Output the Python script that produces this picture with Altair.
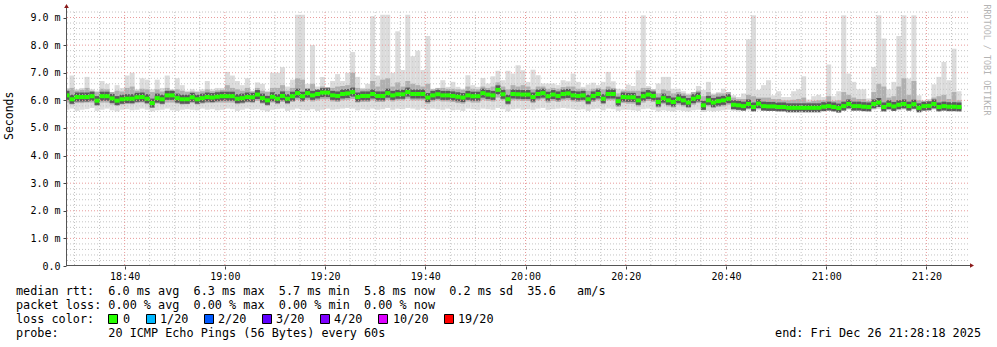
import altair as alt
import pandas as pd

# ---- data (one step per minute, first step starts 18:28) ----
START_MINUTE = 28  # minutes after 18:00

med_a = [6.18, 6.04, 6.12, 6.12, 6.12, 6.15, 5.99, 6.15, 6.15, 6.07, 5.99, 6.04, 6.06, 6.06, 6.11, 6.12, 6.06, 5.90,
         6.08, 6.04, 6.18, 6.18, 6.08, 6.04, 6.04, 6.11, 6.04, 6.08, 6.12, 6.10, 6.13, 6.15, 6.15, 6.15, 6.06, 6.08]
med_b = [6.12, 6.11, 6.21, 6.08, 6.00, 6.13, 6.06, 6.16, 6.06, 6.15, 6.26, 6.15, 6.26, 6.18, 6.23, 6.28, 6.28, 6.18,
         6.16, 6.23, 6.25, 6.30, 6.12, 6.16, 6.16, 6.23, 6.16, 6.16, 6.26, 6.18, 6.22, 6.22, 6.30, 6.23, 6.23, 6.23]
med_c = [6.10, 6.18, 6.22, 6.18, 6.18, 6.16, 6.13, 6.10, 6.18, 6.15, 6.15, 6.26, 6.21, 6.18, 6.38, 6.22, 6.04, 6.23,
         6.22, 6.21, 6.21, 6.12, 6.23, 6.26, 6.15, 6.21, 6.16, 6.23, 6.25, 6.18, 6.16, 6.18, 6.04, 6.16, 6.23, 6.06]
med_d = [6.23, 6.23, 5.97, 6.12, 6.11, 6.11, 6.00, 6.15, 6.21, 6.16, 5.94, 6.08, 6.00, 5.94, 6.06, 6.00, 5.92, 6.06,
         6.12, 5.82, 6.00, 5.92, 5.97, 6.00, 6.06, 5.84, 5.82, 5.79, 5.87, 5.76, 5.88, 5.79, 5.78, 5.78, 5.76, 5.76]
med_e = [5.73, 5.73, 5.73, 5.73, 5.73, 5.73, 5.73, 5.77, 5.79, 5.76, 5.72, 5.79, 5.87, 5.79, 5.79, 5.77, 5.76, 5.87,
         5.92, 5.76, 5.84, 5.78, 5.84, 5.87, 5.79, 5.86, 5.73, 5.79, 5.80, 5.87, 5.76, 5.79, 5.77, 5.77, 5.76]

max_a = [6.45, 6.90, 6.40, 6.45, 6.85, 6.40, 6.35, 6.70, 6.60, 6.30, 6.55, 6.45, 6.90, 7.00, 6.40, 6.80, 6.75, 6.40,
         6.75, 6.45, 6.90, 6.40, 6.80, 6.55, 6.35, 6.40, 6.35, 6.40, 6.70, 6.40, 6.45, 6.45, 7.03, 6.90, 6.70, 6.55]
max_b = [6.80, 6.35, 6.65, 6.60, 6.35, 7.00, 7.00, 7.20, 6.50, 6.75, 9.10, 9.10, 6.60, 8.00, 6.50, 6.85, 6.35, 6.70,
         6.95, 6.70, 7.00, 7.75, 6.85, 6.45, 6.60, 9.05, 6.90, 9.10, 9.10, 7.00, 8.50, 7.10, 9.10, 7.60, 7.80, 7.10]
max_c = [8.33, 6.42, 6.42, 6.73, 6.49, 6.67, 6.49, 6.42, 6.91, 6.55, 6.49, 6.81, 6.61, 6.87, 7.07, 6.73, 7.07, 6.97,
         7.27, 7.09, 6.67, 7.11, 6.91, 6.61, 6.61, 6.61, 6.55, 6.73, 6.69, 6.97, 6.67, 6.49, 6.57, 6.64, 6.55, 6.67]
max_d = [7.03, 6.69, 6.42, 6.40, 6.57, 6.52, 7.09, 9.08, 6.52, 6.38, 6.61, 6.85, 6.85, 6.42, 6.42, 6.33, 6.25, 6.25,
         6.52, 6.38, 6.67, 6.25, 6.30, 6.42, 6.30, 6.18, 6.12, 6.25, 8.21, 9.08, 6.38, 6.55, 6.73, 6.18, 6.33, 6.12]
max_e = [6.12, 6.33, 6.40, 6.87, 6.03, 6.15, 6.20, 6.12, 7.30, 6.15, 6.33, 9.08, 6.97, 6.67, 6.40, 6.40, 6.07, 7.21,
         9.08, 8.24, 6.40, 6.67, 8.33, 9.08, 6.79, 9.08, 6.18, 6.00, 6.05, 6.58, 6.85, 7.39, 6.73, 7.87, 6.33]

min_a = [5.66, 5.70, 5.62, 5.66, 5.68, 5.72, 5.62, 5.66, 5.70, 5.64, 5.60, 5.66, 5.68, 5.64, 5.66, 5.70, 5.66, 5.60,
         5.64, 5.66, 5.70, 5.64, 5.62, 5.66, 5.68, 5.66, 5.64, 5.70, 5.66, 5.68, 5.64, 5.66, 5.70, 5.68, 5.62, 5.66]
min_b = [5.70, 5.66, 5.68, 5.64, 5.60, 5.66, 5.68, 5.70, 5.62, 5.66, 5.70, 5.66, 5.64, 5.68, 5.62, 5.66, 5.70, 5.66,
         5.68, 5.70, 5.72, 5.70, 5.64, 5.68, 5.66, 5.70, 5.66, 5.68, 5.72, 5.66, 5.70, 5.68, 5.72, 5.70, 5.66, 5.70]
min_c = [5.66, 5.70, 5.68, 5.66, 5.70, 5.64, 5.66, 5.62, 5.70, 5.68, 5.66, 5.70, 5.68, 5.66, 5.72, 5.68, 5.60, 5.68,
         5.70, 5.66, 5.68, 5.66, 5.70, 5.72, 5.66, 5.68, 5.70, 5.72, 5.70, 5.68, 5.66, 5.68, 5.62, 5.68, 5.70, 5.64]
min_d = [5.70, 5.68, 5.62, 5.66, 5.66, 5.64, 5.62, 5.68, 5.70, 5.66, 5.60, 5.64, 5.62, 5.60, 5.64, 5.62, 5.60, 5.64,
         5.66, 5.58, 5.62, 5.60, 5.62, 5.64, 5.66, 5.62, 5.60, 5.62, 5.64, 5.62, 5.64, 5.62, 5.62, 5.64, 5.62, 5.62]
min_e = [5.62, 5.64, 5.62, 5.62, 5.64, 5.62, 5.62, 5.64, 5.66, 5.62, 5.60, 5.64, 5.66, 5.62, 5.64, 5.62, 5.62, 5.66,
         5.68, 5.62, 5.64, 5.62, 5.64, 5.66, 5.62, 5.64, 5.60, 5.62, 5.64, 5.66, 5.62, 5.64, 5.62, 5.64, 5.62]

qhi_a = [6.40, 6.45, 6.35, 6.38, 6.45, 6.35, 6.30, 6.42, 6.40, 6.30, 6.35, 6.32, 6.45, 6.50, 6.35, 6.42, 6.40, 6.30,
         6.40, 6.32, 6.45, 6.38, 6.40, 6.35, 6.30, 6.32, 6.30, 6.33, 6.40, 6.33, 6.36, 6.38, 6.55, 6.45, 6.40, 6.35]
qhi_b = [6.45, 6.32, 6.45, 6.35, 6.30, 6.45, 6.45, 6.55, 6.35, 6.45, 6.80, 6.75, 6.40, 6.60, 6.40, 6.50, 6.48, 6.45,
         6.50, 6.52, 6.55, 7.00, 6.45, 6.40, 6.42, 6.70, 6.50, 6.75, 6.80, 6.50, 6.65, 6.50, 6.70, 6.60, 6.55, 6.50]
qhi_c = [6.60, 6.40, 6.45, 6.45, 6.42, 6.42, 6.40, 6.38, 6.50, 6.42, 6.40, 6.50, 6.45, 6.50, 6.65, 6.50, 6.40, 6.55,
         6.50, 6.55, 6.50, 6.40, 6.50, 6.50, 6.42, 6.45, 6.42, 6.48, 6.50, 6.50, 6.42, 6.42, 6.35, 6.42, 6.45, 6.40]
qhi_d = [6.50, 6.45, 6.25, 6.35, 6.35, 6.35, 6.35, 6.45, 6.45, 6.40, 6.25, 6.40, 6.35, 6.25, 6.30, 6.25, 6.20, 6.30,
         6.35, 6.15, 6.30, 6.20, 6.25, 6.25, 6.30, 6.10, 6.05, 6.05, 6.20, 6.15, 6.10, 6.10, 6.10, 6.05, 6.05, 6.00]
qhi_e = [6.00, 6.02, 6.05, 6.10, 5.95, 5.98, 6.00, 6.00, 6.15, 5.98, 6.00, 6.30, 6.20, 6.10, 6.05, 6.05, 5.98, 6.30,
         6.60, 6.50, 6.10, 6.15, 6.50, 6.80, 6.20, 6.70, 6.00, 5.95, 5.98, 6.10, 6.15, 6.20, 6.05, 6.30, 6.00]

qlo_a = [5.92, 5.85, 5.90, 5.90, 5.92, 5.92, 5.80, 5.92, 5.92, 5.85, 5.80, 5.85, 5.88, 5.86, 5.90, 5.92, 5.86, 5.75,
         5.88, 5.85, 5.92, 5.92, 5.88, 5.85, 5.86, 5.90, 5.85, 5.88, 5.90, 5.90, 5.92, 5.92, 5.92, 5.92, 5.86, 5.88]
qlo_b = [5.92, 5.90, 5.98, 5.88, 5.80, 5.92, 5.86, 5.94, 5.86, 5.94, 6.02, 5.94, 6.02, 5.96, 6.00, 6.04, 6.04, 5.96,
         5.94, 6.00, 6.02, 6.05, 5.92, 5.94, 5.94, 6.00, 5.94, 5.94, 6.02, 5.96, 6.00, 6.00, 6.06, 6.00, 6.00, 6.00]
qlo_c = [5.88, 5.96, 6.00, 5.96, 5.96, 5.94, 5.90, 5.88, 5.96, 5.92, 5.92, 6.02, 5.98, 5.96, 6.10, 6.00, 5.84, 6.00,
         6.00, 5.98, 5.98, 5.90, 6.00, 6.04, 5.92, 5.98, 5.94, 6.00, 6.02, 5.96, 5.94, 5.96, 5.84, 5.94, 6.00, 5.86]
qlo_d = [6.00, 6.00, 5.76, 5.90, 5.88, 5.88, 5.78, 5.92, 5.98, 5.94, 5.74, 5.86, 5.78, 5.74, 5.84, 5.78, 5.72, 5.84,
         5.90, 5.66, 5.78, 5.72, 5.76, 5.78, 5.84, 5.68, 5.66, 5.66, 5.70, 5.64, 5.70, 5.66, 5.66, 5.66, 5.66, 5.66]
qlo_e = [5.64, 5.66, 5.64, 5.64, 5.66, 5.64, 5.64, 5.66, 5.68, 5.64, 5.62, 5.68, 5.72, 5.66, 5.66, 5.64, 5.64, 5.72,
         5.76, 5.64, 5.70, 5.66, 5.70, 5.72, 5.66, 5.70, 5.62, 5.66, 5.66, 5.72, 5.64, 5.66, 5.64, 5.66, 5.64]

rtt_median = med_a + med_b + med_c + med_d + med_e
rtt_max = max_a + max_b + max_c + max_d + max_e
rtt_min = min_a + min_b + min_c + min_d + min_e
rtt_qhi = qhi_a + qhi_b + qhi_c + qhi_d + qhi_e
rtt_qlo = qlo_a + qlo_b + qlo_c + qlo_d + qlo_e

x_tick_minutes = [40, 60, 80, 100, 120, 140, 160, 180, 200]
y_tick_values = [0, 1, 2, 3, 4, 5, 6, 7, 8, 9]

stats_line1 = "median rtt:  6.0 ms avg  6.3 ms max  5.7 ms min  5.8 ms now  0.2 ms sd  35.6   am/s"
stats_line2 = "packet loss: 0.00 % avg  0.00 % max  0.00 % min  0.00 % now"
loss_title = "loss color:"
loss_labels = ["0", "1/20", "2/20", "3/20", "4/20", "10/20", "19/20"]
loss_colors = ["#26ff00", "#00b8ff", "#0059ff", "#5e00ff", "#7e00ff", "#dd00ff", "#ff0000"]
probe_line = "probe:       20 ICMP Echo Pings (56 Bytes) every 60s"
end_line = "end: Fri Dec 26 21:28:18 2025"
y_title = "Seconds"
watermark = "RRDTOOL / TOBI OETIKER"

n = len(rtt_median)
assert all(len(a) == n for a in [rtt_max, rtt_min, rtt_qhi, rtt_qlo])
df = pd.DataFrame({
    "t0": [START_MINUTE + i for i in range(n)],
    "t1": [START_MINUTE + i + 1 for i in range(n)],
    "med": rtt_median, "lo": rtt_min, "hi": rtt_max, "qlo": rtt_qlo, "qhi": rtt_qhi,
})

# ---- layout / style ----
W, H = 902, 254
MONO = "DejaVu Sans Mono"
x_scale = alt.Scale(domain=[28.3, 208.3], nice=False, zero=False)
y_scale = alt.Scale(domain=[0, 9.2], nice=False, zero=False)
x_axis = alt.Axis(values=x_tick_minutes, title=None, grid=False, domain=False, tickSize=3, tickColor="#444444",
                  labelFont=MONO, labelFontSize=10, labelColor="#000000", labelPadding=2,
                  labelExpr="toString(18 + floor(datum.value / 60)) + ':' + (datum.value % 60 < 10 ? '0' : '') + toString(datum.value % 60)")
y_axis = alt.Axis(values=y_tick_values, title=None, grid=False, domain=False, tickSize=3, tickColor="#444444",
                  labelFont=MONO, labelFontSize=10, labelColor="#000000", labelPadding=3,
                  labelExpr="datum.value == 0 ? '0.0' : format(datum.value, '.1f') + ' m'")


def X(field):
    return alt.X(field, type="quantitative", scale=x_scale, axis=x_axis)


def Y(field):
    return alt.Y(field, type="quantitative", scale=y_scale, axis=y_axis)


base = alt.Chart(df)
smoke_light = base.mark_rect(color="#dcdcdc", clip=True).encode(x=X("t0"), x2="t1", y=Y("lo"), y2="hi")
smoke_mid = base.mark_rect(color="#b0b0b0", clip=True).encode(x=X("t0"), x2="t1", y=Y("qlo"), y2="qhi")
core = base.mark_rule(color="#5a5a5a", strokeWidth=9, clip=True).encode(x=X("t0"), x2="t1", y=Y("med"))
median = base.mark_rule(color="#26ff00", strokeWidth=4, clip=True).encode(x=X("t0"), x2="t1", y=Y("med"))

minor_x = [m for m in range(30, 209, 5) if m % 20 != 0]
major_x = [m for m in range(40, 209, 20)]
minor_y = [round(v * 0.2, 1) for v in range(1, 47) if v % 5 != 0]
major_y = [1, 2, 3, 4, 5, 6, 7, 8, 9]

grid_minor_v = alt.Chart(pd.DataFrame({"v": minor_x})).mark_rule(color="#c4c4c4", strokeDash=[1, 2]).encode(x=X("v"))
grid_minor_h = alt.Chart(pd.DataFrame({"v": minor_y})).mark_rule(color="#c4c4c4", strokeDash=[1, 2]).encode(y=Y("v"))
grid_major_v = alt.Chart(pd.DataFrame({"v": major_x})).mark_rule(color="#e89a9a", strokeDash=[1, 2]).encode(x=X("v"))
grid_major_h = alt.Chart(pd.DataFrame({"v": major_y})).mark_rule(color="#e89a9a", strokeDash=[1, 2]).encode(y=Y("v"))

one = pd.DataFrame({"a": [0]})
y_axis_line = alt.Chart(one).mark_rule(color="#555555", strokeWidth=1).encode(
    x=alt.value(0.5), y=alt.value(-6), y2=alt.value(H))
x_axis_line = alt.Chart(one).mark_rule(color="#555555", strokeWidth=1).encode(
    x=alt.value(0), x2=alt.value(W + 3), y=alt.value(H - 0.5))
arrow_up = alt.Chart(one).mark_point(shape="triangle-up", filled=True, color="#8b1a1a", size=22, opacity=1).encode(
    x=alt.value(0.5), y=alt.value(-6))
arrow_right = alt.Chart(one).mark_point(shape="triangle-right", filled=True, color="#8b1a1a", size=22, opacity=1).encode(
    x=alt.value(W + 4), y=alt.value(H - 0.5))


def text_layer(txt, x, y, size=11.8, align="left", angle=0, color="#000000", font=MONO):
    d = pd.DataFrame({"t": [txt.replace(" ", "\u00a0")]})
    kw = dict(align=align, baseline="middle", font=font, fontSize=size, color=color)
    if angle:
        kw["angle"] = angle
    return alt.Chart(d).mark_text(**kw).encode(x=alt.value(x), y=alt.value(y), text="t:N")


texts = [
    text_layer(y_title, -56, 128, size=11.5, angle=270),
    text_layer(watermark, 921, 48, size=8.4, angle=90, color="#b4b4b4", align="center"),
    text_layer(stats_line1, -50, 279),
    text_layer(stats_line2, -50, 293),
    text_layer(loss_title, -50, 307),
    text_layer(probe_line, -50, 321),
    text_layer(end_line, 915, 321, align="right"),
]

box_left = [42, 80, 138, 196, 254, 312, 378]
label_left = [57, 94, 152, 210, 268, 327, 392]
boxes = []
for col, bx, lab, lx in zip(loss_colors, box_left, loss_labels, label_left):
    boxes.append(alt.Chart(one).mark_rect(fill=col, stroke="#000000", strokeWidth=1).encode(
        x=alt.value(bx + 0.5), x2=alt.value(bx + 9.5), y=alt.value(302.5), y2=alt.value(311.5)))
    texts.append(text_layer(lab, lx, 307))

chart = alt.layer(
    smoke_light, smoke_mid, core,
    grid_minor_v, grid_minor_h, grid_major_v, grid_major_h,
    median,
    y_axis_line, x_axis_line, arrow_up, arrow_right,
    *boxes, *texts,
).properties(
    width=W, height=H,
    autosize=alt.AutoSizeParams(type="none"),
    padding={"left": 66, "top": 12, "right": 29, "bottom": 81},
    background="white",
).configure_view(stroke=None)

chart.save("out.html", embed_options={"renderer": "svg", "actions": False})
